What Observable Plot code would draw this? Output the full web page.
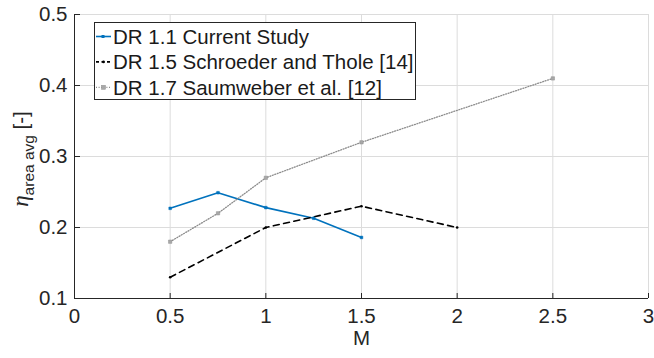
<!DOCTYPE html>
<html>
<head>
<meta charset="utf-8">
<script src="https://cdn.jsdelivr.net/npm/d3@7"></script>
<script src="https://cdn.jsdelivr.net/npm/@observablehq/plot@0.6"></script>
<style>
  html, body { margin: 0; padding: 0; background: #fff; }
  #chart { width: 654px; height: 358px; }
</style>
</head>
<body>
<div id="chart"></div>
<script>
// ---- data ----
const seriesNames = ["DR 1.1 Current Study", "DR 1.5 Schroeder and Thole [14]", "DR 1.7 Saumweber et al. [12]"];
const mCurrent = [0.5, 0.75, 1, 1.25, 1.5];
const etaCurrent = [0.227, 0.249, 0.228, 0.213, 0.186];
const mSchroeder = [0.5, 1, 1.5, 2];
const etaSchroeder = [0.13, 0.2, 0.23, 0.2];
const mSaumweber = [0.5, 0.75, 1, 1.5, 2.5];
const etaSaumweber = [0.18, 0.22, 0.27, 0.32, 0.41];
const xTicks = [0, 0.5, 1, 1.5, 2, 2.5, 3];
const yTicks = [0.1, 0.2, 0.3, 0.4, 0.5];
const xLabel = "M";

// ---- styles ----
const colors = ["#0072BD", "#000000", "#8c8c8c"];
const dashes = [null, "6,4.5", "1,1.6"];
const widths = [1.6, 1.6, 1.3];

const toRows = (xs, ys, s) => xs.map((x, i) => ({x, y: ys[i], s}));
const rows = [
  ...toRows(mCurrent, etaCurrent, 0),
  ...toRows(mSchroeder, etaSchroeder, 1),
  ...toRows(mSaumweber, etaSaumweber, 2)
];

const font = "'Liberation Sans', Arial, Helvetica, sans-serif";
const fmt = d => String(d);

const lineMarks = [0, 1, 2].map(s => Plot.line(rows.filter(r => r.s === s), {
  x: "x", y: "y", stroke: colors[s], strokeWidth: widths[s],
  strokeDasharray: dashes[s]
}));
const dotMarks = [
  Plot.dot(rows.filter(r => r.s === 0), {x: "x", y: "y", symbol: "square", r: 1.5, fill: colors[0], stroke: colors[0], strokeWidth: 0.5}),
  Plot.dot(rows.filter(r => r.s === 1), {x: "x", y: "y", r: 1.3, fill: colors[1]}),
  Plot.dot(rows.filter(r => r.s === 2), {x: "x", y: "y", symbol: "square", r: 1.9, fill: "#a8a8a8", stroke: "#909090", strokeWidth: 0.5})
];

const chart = Plot.plot({
  width: 654,
  height: 358,
  marginLeft: 74,
  marginRight: 6,
  marginTop: 14,
  marginBottom: 60,
  style: {fontFamily: font, fontSize: "20.5px", color: "#262626", background: "#fff"},
  x: {domain: [0, 3], ticks: xTicks, tickFormat: fmt, label: null},
  y: {domain: [0.1, 0.5], ticks: yTicks, tickFormat: fmt, label: null},
  marks: [
    Plot.gridX(xTicks, {stroke: "#dcdcdc", strokeOpacity: 1, strokeWidth: 1}),
    Plot.gridY(yTicks, {stroke: "#dcdcdc", strokeOpacity: 1, strokeWidth: 1}),
    // inward tick marks
    Plot.ruleX(xTicks, {x: d => d, y1: 0.1, y2: 0.1 + 0.4 * 5 / 284, stroke: "#262626", strokeWidth: 1}),
    Plot.ruleY(yTicks, {y: d => d, x1: 0, x2: 3 * 6 / 574, stroke: "#262626", strokeWidth: 1}),
    Plot.ruleY([0.1], {stroke: "#262626", strokeWidth: 1}),
    Plot.ruleX([0], {stroke: "#262626", strokeWidth: 1}),
    Plot.axisX(xTicks, {tickSize: 0, tickPadding: 10, fontSize: 20.5, fill: "#262626", tickFormat: fmt, label: null}),
    Plot.axisY(yTicks, {tickSize: 0, tickPadding: 7, fontSize: 20.5, fill: "#262626", tickFormat: fmt, label: null}),
    ...lineMarks,
    ...dotMarks,
    Plot.text([xLabel], {text: d => d, frameAnchor: "bottom", dy: 46, fontSize: 20.5, fill: "#262626"})
  ]
});

document.getElementById("chart").appendChild(chart);

// ---- y label with subscript ----
const svg = d3.select(chart);
const yl = svg.append("text")
  .attr("transform", "translate(28,159) rotate(-90)")
  .attr("text-anchor", "middle")
  .attr("fill", "#262626")
  .attr("font-family", font)
  .attr("font-size", 20.5);
yl.append("tspan").attr("font-family", "'Liberation Serif', 'DejaVu Serif', serif").attr("font-style", "italic").attr("font-size", 23).text("η");
yl.append("tspan").attr("font-size", 15.5).attr("dy", 6).text("area avg");
yl.append("tspan").attr("dy", -6).text("\u00a0[-]");

// ---- legend ----
const lg = svg.append("g").attr("font-family", font).attr("font-size", 20.5).attr("text-anchor", "start");
lg.append("rect").attr("x", 94.5).attr("y", 22.5).attr("width", 321).attr("height", 77)
  .attr("fill", "#fff").attr("stroke", "#262626").attr("stroke-width", 1);
seriesNames.forEach((name, i) => {
  const cy = 36.5 + i * 25.4;
  lg.append("line").attr("x1", 96).attr("x2", 111).attr("y1", cy).attr("y2", cy)
    .attr("stroke", colors[i]).attr("stroke-width", widths[i])
    .attr("stroke-dasharray", i === 1 ? "3,2.5" : dashes[i]);
  if (i === 0) lg.append("rect").attr("x", 101.5).attr("y", cy - 1.5).attr("width", 3).attr("height", 3).attr("fill", colors[0]);
  if (i === 1) lg.append("circle").attr("cx", 103.5).attr("cy", cy).attr("r", 1.3).attr("fill", colors[1]);
  if (i === 2) lg.append("rect").attr("x", 101.5).attr("y", cy - 2).attr("width", 4).attr("height", 4).attr("fill", "#a8a8a8").attr("stroke", "#909090").attr("stroke-width", 0.5);
  lg.append("text").attr("x", 113).attr("y", cy).attr("dy", "0.36em").attr("text-anchor", "start").attr("fill", "#1a1a1a").text(name);
});
</script>
</body>
</html>
